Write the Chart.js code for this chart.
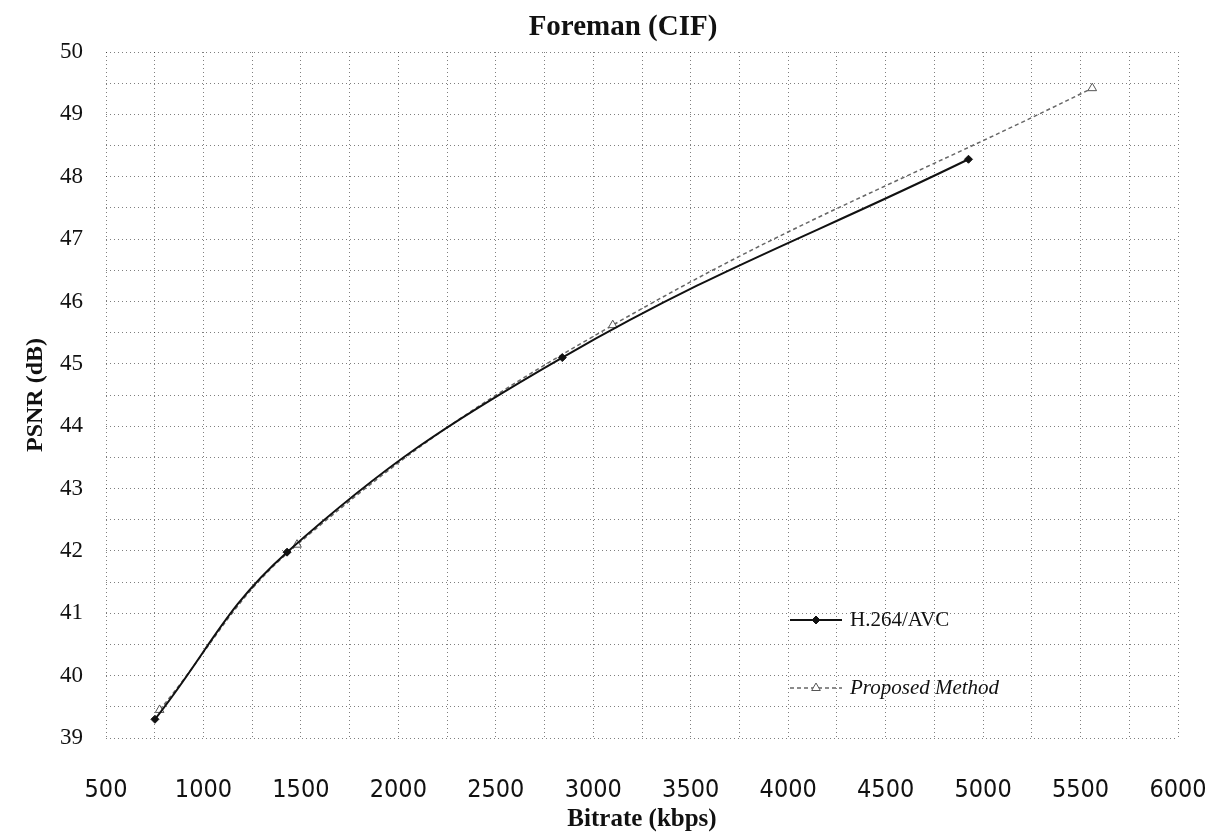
<!DOCTYPE html>
<html>
<head>
<meta charset="utf-8">
<script src="https://cdn.jsdelivr.net/npm/chart.js@4/dist/chart.umd.min.js"></script>
<style>
html,body{margin:0;padding:0;background:#fff;}
#wrap{width:1223px;height:838px;position:relative;}
</style>
</head>
<body>
<div id="wrap"><canvas id="c" width="1223" height="838"></canvas></div>
<script>
const chartTitle = "Foreman (CIF)";
const xTitle = "Bitrate (kbps)";
const yTitle = "PSNR (dB)";
const seriesNames = ["H.264/AVC", "Proposed Method"];
const h264Bitrate = [751, 1429, 2841, 4925];
const h264Psnr = [39.30, 41.98, 45.10, 48.28];
const propBitrate = [775, 1480, 3100, 5560];
const propPsnr = [39.45, 42.10, 45.62, 49.42];
const xMin = 500, xMax = 6000, xLabelStep = 500, xGridStep = 250;
const yMin = 39, yMax = 50, yLabelStep = 1, yGridStep = 0.5;

const toPts = (xs, ys) => xs.map((x, i) => ({x: x, y: ys[i]}));

const titlePlugin = {
  id: 'customTitle',
  afterDraw(chart) {
    const ctx = chart.ctx;
    ctx.save();
    ctx.fillStyle = '#111';
    ctx.font = 'bold 29px "Liberation Serif", serif';
    ctx.textAlign = 'center';
    ctx.textBaseline = 'middle';
    ctx.fillText(chartTitle, 623, 28);
    ctx.restore();
  }
};

const legendPlugin = {
  id: 'insideLegend',
  afterDatasetsDraw(chart) {
    const ctx = chart.ctx;
    const items = [
      {ds: chart.data.datasets[0], y: 620, italic: false},
      {ds: chart.data.datasets[1], y: 688, italic: true}
    ];
    ctx.save();
    items.forEach(it => {
      const ds = it.ds;
      ctx.strokeStyle = ds.borderColor;
      ctx.lineWidth = ds.borderWidth;
      ctx.setLineDash(ds.borderDash || []);
      ctx.beginPath();
      ctx.moveTo(790, it.y);
      ctx.lineTo(842, it.y);
      ctx.stroke();
      ctx.setLineDash([]);
      ctx.fillStyle = ds.pointBackgroundColor;
      ctx.strokeStyle = ds.pointBorderColor;
      ctx.lineWidth = ds.pointBorderWidth;
      Chart.helpers.drawPoint(ctx, {
        pointStyle: ds.pointStyle, radius: ds.pointRadius, borderWidth: ds.pointBorderWidth, rotation: 0
      }, 816, it.y);
      ctx.fillStyle = '#111';
      ctx.font = (it.italic ? 'italic ' : '') + '21px "Liberation Serif", serif';
      ctx.textBaseline = 'middle';
      ctx.textAlign = 'left';
      ctx.fillText(ds.label, 850, it.y);
    });
    ctx.restore();
  }
};

const gridColor = 'rgba(0,0,0,0.5)';

new Chart(document.getElementById('c'), {
  type: 'line',
  data: {
    datasets: [
      {
        label: seriesNames[0],
        data: toPts(h264Bitrate, h264Psnr),
        borderColor: '#111',
        borderWidth: 2,
        pointStyle: 'rectRot',
        pointRadius: 4,
        pointBackgroundColor: '#111',
        pointBorderColor: '#111',
        pointBorderWidth: 1,
        tension: 0.4,
        fill: false
      },
      {
        label: seriesNames[1],
        data: toPts(propBitrate, propPsnr),
        borderColor: '#666',
        borderWidth: 1.5,
        borderDash: [4, 3],
        pointStyle: 'triangle',
        pointRadius: 5,
        pointBackgroundColor: '#fff',
        pointBorderColor: '#555',
        pointBorderWidth: 1,
        tension: 0.4,
        fill: false
      }
    ]
  },
  options: {
    responsive: false,
    animation: false,
    layout: {padding: {left: 0, right: 45, top: 52, bottom: 0}},
    plugins: {
      legend: {display: false},
      tooltip: {enabled: false},
      title: {display: false}
    },
    scales: {
      x: {
        type: 'linear',
        min: xMin, max: xMax,
        afterFit(s) { s.height = 100; s.paddingLeft = 0; s.paddingRight = 0; },
        afterBuildTicks(s) {
          const t = [];
          for (let v = xMin; v <= xMax + 1e-9; v += xGridStep) t.push({value: v});
          s.ticks = t;
        },
        ticks: {
          autoSkip: false, maxRotation: 0,
          padding: 37,
          color: '#111',
          font: {family: '"DejaVu Sans Condensed", "DejaVu Sans", sans-serif', size: 25},
          callback: v => (v % xLabelStep === 0 ? String(v) : '')
        },
        grid: {color: gridColor, lineWidth: 1, drawTicks: false},
        border: {display: false, dash: [1, 3]},
        title: {
          display: true, text: xTitle, color: '#111',
          font: {family: '"Liberation Serif", serif', size: 25, weight: 'bold'},
          padding: {top: 0, bottom: 3}
        }
      },
      y: {
        type: 'linear',
        min: yMin, max: yMax,
        afterFit(s) { s.width = 106; s.paddingTop = 0; s.paddingBottom = 0; },
        afterBuildTicks(s) {
          const t = [];
          for (let v = yMin; v <= yMax + 1e-9; v += yGridStep) t.push({value: Math.round(v * 10) / 10});
          s.ticks = t;
        },
        ticks: {
          autoSkip: false,
          padding: 23,
          color: '#111',
          font: {family: '"Liberation Serif", serif', size: 23},
          callback: v => (Math.abs(v - Math.round(v)) < 1e-9 ? String(v) : '')
        },
        grid: {color: gridColor, lineWidth: 1, drawTicks: false},
        border: {display: false, dash: [1, 3]},
        title: {
          display: true, text: yTitle, color: '#111',
          font: {family: '"Liberation Serif", serif', size: 24, weight: 'bold'},
          padding: {top: 21, bottom: 0}
        }
      }
    }
  },
  plugins: [legendPlugin, titlePlugin, {
    id: 'dashGrid',
    beforeDraw(chart) {
      ['x', 'y'].forEach(k => {
        chart.scales[k].options.grid.borderDash = [1, 3];
      });
    }
  }]
});
</script>
</body>
</html>
